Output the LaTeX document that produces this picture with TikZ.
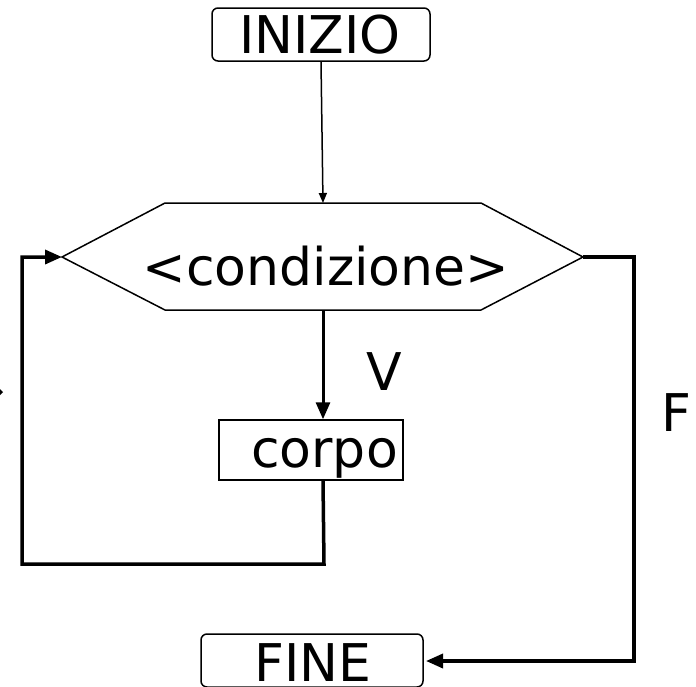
\documentclass[tikz,border=0pt]{standalone}
\usepackage{fontspec}
\setmainfont{DejaVu Sans}
\usetikzlibrary{arrows.meta}
\begin{document}
\begin{tikzpicture}[x=1pt,y=-1pt,
  lbl/.style={font=\fontsize{52}{60}\selectfont, inner sep=0pt, anchor=base},
  term/.style={draw, line width=1.5pt, rounded corners=6pt, minimum width=#1, minimum height=53pt, inner sep=0pt},
  procbox/.style={draw, line width=1.5pt, minimum width=184pt, minimum height=60pt, inner sep=0pt},
  thinarrow/.style={line width=1.5pt, -{Triangle[length=10pt,width=8pt]}},
  thickarrow/.style={line width=3.5pt, -{Triangle[length=17pt,width=14pt]}},
  hexline/.style={line width=1.5pt, line join=miter}]
\useasboundingbox (0,0) rectangle (696,686);
\clip (0,0) rectangle (696,686);

% start terminal
\node[term=218pt] (inizio) at (321,34.5) {};
\node[lbl] (tInizio) at (320,53) {INIZIO};

% decision hexagon
\coordinate (hexL) at (62,257);
\coordinate (hexTL) at (165,203);
\coordinate (hexTR) at (481,203);
\coordinate (hexR) at (583,257);
\coordinate (hexBR) at (481,310);
\coordinate (hexBL) at (165,310);
\coordinate (hexT) at (323,203);
\coordinate (hexB) at (323,310);
\draw[hexline] (hexL) -- (hexTL) -- (hexTR) -- (hexR) -- (hexBR) -- (hexBL) -- cycle;
\node[lbl] (tCond) at (326,285) {<condizione>};

% body
\node[procbox] (corpo) at (311,450) {};
\node[lbl] (tCorpo) at (324.5,467) {corpo};

% labels
\node[lbl] (lV) at (384.5,390) {V};
\node[lbl] (lF) at (676,431) {F};

% end terminal
\node[term=222pt] (fine) at (312,660.5) {};
\node[lbl] (tFine) at (313,681) {FINE};

% connectors
\draw[thinarrow] (inizio.south) -- (hexT);
\draw[thickarrow, line width=3pt] (hexB) -- (hexB |- corpo.north);

\coordinate (loopBR) at (324,564);
\coordinate (loopBL) at (22,564);
\coordinate (loopTL) at (22,257);
\draw[thickarrow, line join=miter] (hexB |- corpo.south) -- (loopBR) -- (loopBL) -- (loopTL) -- (hexL);

\coordinate (fTR) at (634,257);
\coordinate (fBR) at (634,661);
\coordinate (fineIn) at (426,661);
\draw[thickarrow, line join=miter] (hexR) -- (fTR) -- (fBR) -- (fineIn);

% small arrow tip cut at the left edge
\fill (-1,388) -- (3,392) -- (-1,396) -- cycle;
\end{tikzpicture}
\end{document}
